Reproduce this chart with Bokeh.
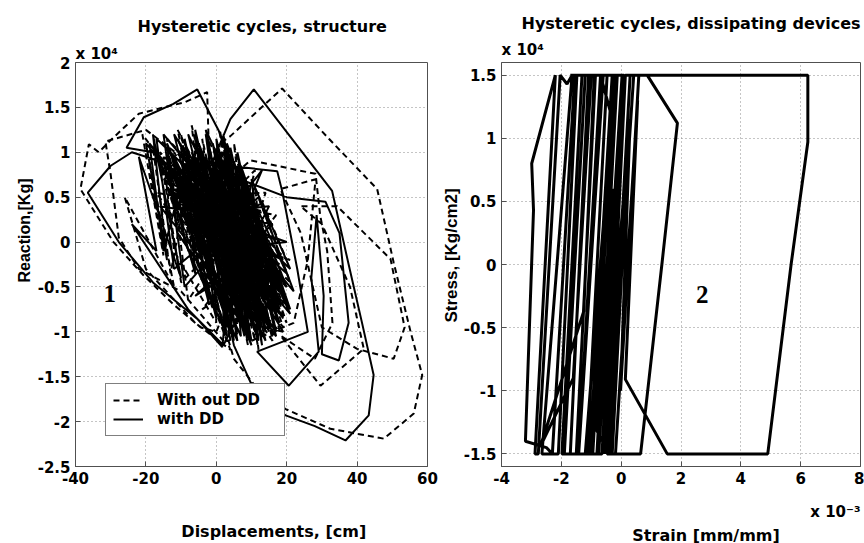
from bokeh.plotting import figure
from bokeh.layouts import row
from bokeh.models import (Range1d, FixedTicker, CustomJSTickFormatter, Label, Legend, LegendItem,
                          Title, LinearAxis)
from bokeh.embed import file_html
from bokeh.resources import INLINE

# ---------------- data ----------------
# Panel 1: displacement [cm] vs reaction [x 1e4 Kg]
with_dd_pts = [
    (0.0, 0.0), (-6, 0.9), (12, -0.8), (-2, 1.0), (16, -0.6), (-10, 1.05), (-7, 0.2), (8, -1.0),
    (3, 0.8), (18, -0.9), (-8, 1.2), (5, -0.9), (0, 1.15), (14, -1.1), (-12, 0.95), (-9, 0.0),
    (2, -0.95), (5, 0.6), (20, -0.5), (-4, 0.75), (10, -1.15), (-14, 1.1), (-11, 0.1), (3, -0.7),
    (1, 0.95), (17, -0.3), (-3, 0.5), (-18, 1.0), (-25.5, 1.05), (-20.6, 1.39), (-12.2, 1.54),
    (-5.4, 1.70), (0.7, 1.24), (6, 0.6), (11, -0.55), (15, -0.85), (-7, 0.55), (7, -0.6),
    (-3, 1.25), (21, -0.75), (7, 0.85), (9, -0.8), (-11, 0.7), (13, -0.35), (-1, 0.6), (6, -1.1),
    (-16, 0.9), (-24, 1.0), (-30, 0.85), (-36.5, 0.55), (-27.7, 0.0), (-18, -0.45), (-5.3, -0.86),
    (1.7, -1.17), (2.5, -0.85), (19, -1.0), (-9, 0.85), (4, -0.4), (4, 1.05), (16, -1.05),
    (-5, 1.1), (11, -1.0), (-1, 0.9), (4.0, 1.37), (10.65, 1.70), (21.5, 1.15), (32.9, 0.57),
    (37.6, -0.25), (41.4, -0.9), (44.7, -1.48), (43.3, -1.93), (36.7, -2.21), (28, -2.05),
    (19.7, -1.93), (15.4, -1.82), (9.7, -1.56), (5, -1.15), (2, -0.6), (-13, 0.8), (14, -0.2),
    (2, 0.45), (2, -0.95), (-6, 0.35), (18, -0.65), (3, 0.85), (17.3, 0.79), (18.7, 0.57),
    (23, -0.3), (26, -1.0), (11.6, -1.22), (20.6, -1.6), (29.1, -1.22), (27, -0.4), (28.5, 0.3),
    (30.5, -0.6), (30, -1.25), (34.8, -1.32), (37.6, -0.9), (35, 0.1), (31, 0.45), (20, 0.5),
    (0, 0.8), (8, -0.45), (-2, 0.5), (9, 0.5), (13, -0.6), (-8, 0.4), (-4, 0.0), (5, -0.2),
    (-13, 1.0), (-2, -0.7), (-9, 1.15), (3, -0.95), (-5, 1.05), (8, -1.05), (-1, 1.1), (12, -0.95),
    (3, 0.95), (16, -0.85), (7, 0.8), (19, -0.6), (-11, 0.85), (0, -0.85), (-7, 0.95), (5, -1.1),
    (-3, 1.2), (10, -1.1), (1, 1.0), (14, -1.0), (5, 0.9), (18, -0.75), (9, 0.6), (20, -0.35),
    (-15, 0.9), (-6, -0.35), (-8, 0.7), (2, -0.75), (-4, 0.85), (6, -0.8), (0, 0.75), (11, -0.7),
    (4, 0.65), (15, -0.55), (-12, 1.2), (-1, -0.5), (-6, 1.25), (7, -0.95), (2, 1.2), (13, -1.15),
    (6, 1.0), (17, -1.0), (-10, 0.6), (4, -1.0), (-2, 0.65), (9, -0.55), (8, 0.3), (21, -0.8),
    (-20, 1.1), (-14, -0.2), (-18, 1.2), (-10, -0.4), (-22, 0.95), (-17, -0.1), (-24, 0.2),
    (-8, -0.75), (2, -1.15), (12, -0.4),
    (-19, 1.1), (-15, -0.1), (-8, 0.95), (14, -0.6), (10, 0.7), (21, -0.3), (-17, 1.15),
    (-12, -0.3), (12, 0.5), (22, -0.55), (-15, 1.2), (-9, -0.5), (9, 0.3), (17, -1.05),
    (-13, 0.5), (6, -0.3), (15, 0.4), (-10, 0.3), (19, -0.2), (-14, 0.6), (10, -0.2), (-6, -0.6),
    (16, 0.2), (-16, 0.4), (0, -0.4), (13, 0.8), (-5, -0.1), (20, 0.0), (-12, 0.45), (11, 0.1),
    (-6, 0.7), (17, -0.45), (-9, 0.55), (15, -0.95), (-4, 0.4), (19, -0.85), (-7, 1.0), (8, -0.7),
    (1, 0.5), (14, -0.8), (-3, 0.95), (12, -1.1), (6, 0.75), (16, -0.3), (-1, 0.3), (10, -0.9),
    (3, 1.1), (18, -0.5), (-5, 0.25), (13, -0.5), (0, 1.0), (9, -1.0), (8, 0.65), (20, -0.7),
    (-8, 0.25), (7, -1.05), (4, 0.4), (15, -0.15), (-2, 0.2), (11, -0.85), (10, 0.4), (17, -0.7),
    (-10, 0.9), (3, -0.55), (5, 0.15), (18, -0.25),
]
without_dd_pts = [
    (0.0, 0.0), (10, -0.7), (-4, 0.8), (14, -0.95), (-9, 1.1), (6, -1.0), (1, 1.0), (17, -0.8),
    (-12, 1.0), (-8, 0.1), (4, -0.85), (-1, 0.7), (15, -0.5), (-6, 1.15), (9, -1.1), (3, 0.9),
    (19, -0.7), (-15, 0.95), (-12, -0.1), (0, -0.9), (-2, 0.9), (-2.6, 1.67), (-8.75, 1.56),
    (-22, 1.43), (-29.6, 1.15), (-33.4, 1.0), (-36.2, 1.09), (-38.6, 0.59), (-34, 0.3),
    (-29.2, 0.0), (-20.7, -0.37), (-12, -0.7), (-4.5, -0.95), (0, -1.0), (4, -0.6), (-7, 0.65),
    (12, -1.05), (-3, 1.2), (16, -0.35), (-10, 0.8), (7, -0.75), (2, 1.1), (20, -0.9), (-5, 0.8),
    (-20, 1.25), (-31.5, 1.12), (-30, 0.75), (-27.7, 0.05), (-22, -0.3), (-10, -0.55), (2, -1.1),
    (5, -0.3), (-11, 1.15), (13, -0.75), (0, 0.6), (18, -0.45), (-5, 0.45), (8, -0.95),
    (0.3, 1.08), (4.0, 1.18), (18.7, 1.71), (32, 1.15), (45.7, 0.59), (50.4, -0.23), (55.2, -1.0),
    (58.5, -1.48), (56.1, -1.91), (47.6, -2.19), (32.4, -2.08), (19.7, -1.86), (11.6, -1.63),
    (5, -1.3), (-1, -0.5), (-13, 0.75), (11, -0.4), (-2, 0.45), (15, -1.0), (5, 0.75), (9.7, 0.91),
    (28.2, 0.76), (29.5, 0.3), (31.5, -0.1), (33, -0.9), (28, -1.3), (18.2, -1.04), (29.6, -1.6),
    (41.9, -1.19), (38, -0.5), (30, 0.2), (23.9, 0.40), (34.3, 0.40), (49.5, -0.19), (53.5, -0.95),
    (50.4, -1.3), (40, -1.19), (30, -0.95), (24, 0.1), (18.2, 0.59), (28.2, 0.7), (26, -0.2),
    (22, -0.9), (10, -1.1), (-3, 0.3), (6, 0.3), (12, -0.2), (-6, 0.2), (3, -0.2),
    (-14, 1.05), (-3, -0.55), (-10, 1.2), (1, -0.9), (-6, 1.1), (6, -1.05), (-2, 1.05), (11, -1.0),
    (2, 1.0), (15, -0.9), (6, 0.85), (18, -0.7), (-12, 0.8), (-1, -0.75), (-8, 1.0), (4, -1.1),
    (-4, 1.15), (9, -1.15), (0, 1.05), (13, -1.05), (4, 0.95), (17, -0.8), (8, 0.7), (20, -0.5),
    (-16, 0.85), (-7, -0.2), (-9, 0.75), (1, -0.65), (-5, 0.6), (5, -0.7), (-1, 0.85), (10, -0.85),
    (3, 0.7), (14, -0.65), (-11, 1.25), (-2, -0.4), (-7, 1.3), (6, -0.9), (1, 1.25), (12, -1.2),
    (5, 1.1), (16, -1.1), (-13, 0.55), (3, -1.05), (-3, 0.7), (8, -0.65), (7, 0.45), (19, -0.95),
    (-21, 1.2), (-15, -0.15), (-19, 0.9), (-12, -0.5), (-26, 0.5), (-20, -0.3), (-6, -0.9),
    (4, -1.2),
    (-18, 1.05), (-13, -0.35), (-7, 0.9), (15, -0.75), (11, 0.6), (21, -0.45), (-16, 1.0),
    (-10, -0.45), (13, 0.45), (20, -0.2), (-14, 1.15), (-8, -0.65), (10, 0.45), (18, -1.0),
    (-12, 0.35), (8, -0.2), (14, 0.55), (-11, 0.5), (18, 0.0), (-15, 0.7), (12, -0.3), (-4, -0.75),
    (17, 0.3), (-17, 0.55), (2, -0.55), (11, 0.8), (-7, 0.1), (21, -0.2), (-9, 0.2), (9, 0.05),
    (-5, 0.75), (16, -0.5), (-8, 0.6), (14, -0.9), (-3, 0.35), (19, -0.6), (-6, 0.95), (9, -0.75),
    (2, 0.55), (15, -0.7), (-2, 0.9), (11, -1.1), (7, 0.7), (17, -0.35), (0, 0.35), (12, -0.9),
    (4, 1.0), (18, -0.8), (-4, 0.2), (13, -0.45), (1, 0.85), (8, -1.0), (9, 0.55), (19, -0.4),
    (-7, 0.3), (6, -1.0), (5, 0.45), (16, -0.2), (-1, 0.15), (10, -0.65), (11, 0.35), (20, -0.65),
    (-9, 0.95), (4, -0.75), (6, 0.1), (17, -0.55),
]
# Panel 2: strain [x 1e-3 mm/mm] vs stress [x 1e4 Kg/cm2]
device_pts = [
    (0.0, 0.0), (0.42, 1.5), (6.24, 1.5), (6.24, 0.97), (5.68, 0.0), (4.9, -1.5), (1.54, -1.5),
    (0.14, -0.91), (0.55, 1.3), (-0.19, -1.5), (-0.47, -1.5), (0.14, 1.5), (0.59, 1.5),
    (-0.02, -1.0), (0.3, 1.15), (-0.64, -1.5), (-0.81, -1.5), (-0.13, 1.5), (0.03, 1.5),
    (-0.75, -1.5), (-1.14, -1.5), (-0.47, 1.5), (-0.30, 1.5), (-1.05, -1.5), (-1.42, -1.5),
    (-0.69, 1.5), (-0.35, 1.2), (-0.9, -1.1), (-0.5, 0.6), (-1.2, -1.5), (-1.70, -1.5),
    (-1.09, 1.5), (-0.86, 1.5), (-1.5, -1.5), (-1.98, -1.5), (-1.31, 1.5), (-1.0, 1.5),
    (-1.6, -0.9), (-2.7, -1.44), (-1.25, -0.37), (-0.9, 1.5), (-1.48, 1.5), (-2.1, -1.5),
    (-2.65, -1.5), (-1.64, 1.5), (-1.81, 1.43), (-2.04, 1.5), (-2.77, -1.5), (-2.88, -1.5),
    (-2.2, 1.5), (-2.99, 0.8), (-2.93, 0.43), (-3.2, -1.4), (-2.5, -1.45), (-2.3, -1.5),
    (-1.55, 1.5), (-1.2, 1.5), (-1.9, -1.5), (-1.42, -1.5), (-0.6, 1.5), (-0.2, 1.5),
    (-0.95, -1.5), (-0.64, -1.5), (0.0, 1.3), (-0.7, -1.15), (-0.3, 0.6), (-0.85, -1.3),
    (-0.4, -1.5), (0.3, 1.5), (0.87, 1.5), (1.88, 1.12), (1.37, 0.02), (0.65, -1.5),
    (-0.30, -1.5), (0.25, 1.0), (-0.45, -1.2), (-0.1, 0.2), (-0.55, -1.5), (0.1, 1.5), (-1.7, 1.5),
]

disp_with_dd = [p[0] for p in with_dd_pts]
react_with_dd = [p[1] for p in with_dd_pts]
disp_without_dd = [p[0] for p in without_dd_pts]
react_without_dd = [p[1] for p in without_dd_pts]
strain_dd = [p[0] for p in device_pts]
stress_dd = [p[1] for p in device_pts]

left_xticks = [-40, -20, 0, 20, 40, 60]
left_yticks = [-2.5, -2, -1.5, -1, -0.5, 0, 0.5, 1, 1.5, 2]
right_xticks = [-4, -2, 0, 2, 4, 6, 8]
right_yticks = [-1.5, -1, -0.5, 0, 0.5, 1, 1.5]
exp_tick = [7.16]

FONT_H = "DejaVu Sans"
FONT_V = "Liberation Sans"
FMT = "return String(Math.round(tick*1000)/1000);"
NB = "\u00a0"


def style(p, xticks, yticks):
    p.xaxis.ticker = FixedTicker(ticks=xticks)
    p.yaxis.ticker = FixedTicker(ticks=yticks)
    p.xaxis.formatter = CustomJSTickFormatter(code=FMT)
    p.yaxis.formatter = CustomJSTickFormatter(code=FMT)
    for ax in (p.xaxis[0], p.yaxis[0]):
        ax.major_tick_in = 5
        ax.major_tick_out = 0
        ax.minor_tick_in = 0
        ax.minor_tick_out = 0
        ax.major_label_standoff = 5
        ax.major_label_text_font = FONT_H
        ax.major_label_text_font_style = "bold"
        ax.major_label_text_font_size = "15px"
        ax.major_label_text_color = "black"
        ax.axis_line_color = "#505050"
        ax.major_tick_line_color = "#505050"
    p.grid.grid_line_color = "#8a8a8a"
    p.grid.grid_line_dash = "1 3"
    p.outline_line_color = "#505050"
    p.background_fill_color = "white"
    p.border_fill_color = "white"


def title(p, text, where, size, font=FONT_H, offset=0, standoff=0):
    p.add_layout(Title(text=text, align="left", offset=offset, standoff=standoff,
                       text_font=font, text_font_style="bold", text_font_size=size,
                       text_color="black"), where)


def xlabel(ax, text, standoff):
    ax.axis_label = text
    ax.axis_label_standoff = standoff
    ax.axis_label_text_font = FONT_H
    ax.axis_label_text_font_style = "bold"
    ax.axis_label_text_font_size = "16px"
    ax.axis_label_text_color = "black"


def label(p, x, y, text):
    p.add_layout(Label(x=x, y=y, text=text, text_font="Liberation Serif",
                       text_font_style="bold", text_font_size="25px", text_align="center",
                       text_baseline="middle", text_color="black"))


# ---------------- panel 1 ----------------
p1 = figure(frame_width=352, frame_height=404, min_border_left=75, min_border_right=11,
            min_border_top=62, min_border_bottom=77,
            x_range=Range1d(-40, 60), y_range=Range1d(-2.5, 2),
            output_backend="svg", toolbar_location=None)
style(p1, left_xticks, left_yticks)

r_wo = p1.line(disp_without_dd, react_without_dd, line_color="black", line_width=2,
               line_dash="6 4")
r_w = p1.line(disp_with_dd, react_with_dd, line_color="black", line_width=2)

legend = Legend(items=[LegendItem(label="With out DD", renderers=[r_wo]),
                       LegendItem(label="with DD", renderers=[r_w])],
                location=(30, 30), padding=7, spacing=1, margin=0,
                glyph_width=30, glyph_height=18, label_height=18, label_width=120,
                label_standoff=14, border_line_color="black", border_line_width=1,
                background_fill_color="white", background_fill_alpha=1,
                label_text_font=FONT_H, label_text_font_style="bold",
                label_text_font_size="15px", label_text_color="black")
p1.add_layout(legend)
label(p1, -30.3, -0.57, "1")

title(p1, "x 10\u2074", "above", "15px", standoff=0)
title(p1, "Hysteretic cycles, structure", "above", "16px", offset=62, standoff=13)
title(p1, "Reaction,[Kg]", "left", "16px", font=FONT_V, offset=184, standoff=4)
xlabel(p1.xaxis[0], NB * 8 + "Displacements, [cm]", 35)

# ---------------- panel 2 ----------------
p2 = figure(frame_width=359, frame_height=404, min_border_left=63, min_border_right=4,
            min_border_top=62, min_border_bottom=77,
            x_range=Range1d(-4, 8), y_range=Range1d(-1.6, 1.6),
            output_backend="svg", toolbar_location=None)
style(p2, right_xticks, right_yticks)

p2.line(strain_dd, stress_dd, line_color="black", line_width=3)
label(p2, 2.71, -0.24, "2")

title(p2, "x 10\u2074", "above", "15px", standoff=7)
title(p2, "Hysteretic cycles, dissipating devices", "above", "16px", offset=20, standoff=6)
title(p2, "Stress, [Kg/cm2]", "left", "17px", font=FONT_V, offset=144, standoff=0)

exp_axis = LinearAxis(ticker=FixedTicker(ticks=exp_tick),
                      formatter=CustomJSTickFormatter(code="return 'x 10\u207b\u00b3';"),
                      major_tick_in=0, major_tick_out=0, minor_tick_in=0, minor_tick_out=0,
                      axis_line_alpha=0, major_label_standoff=16,
                      major_label_text_font=FONT_H, major_label_text_font_style="bold",
                      major_label_text_font_size="15px", major_label_text_color="black")
xlabel(exp_axis, NB * 9 + "Strain [mm/mm]", 2)
p2.add_layout(exp_axis, "below")

layout = row(p1, p2)
open("out.html", "w").write(file_html(layout, INLINE))
